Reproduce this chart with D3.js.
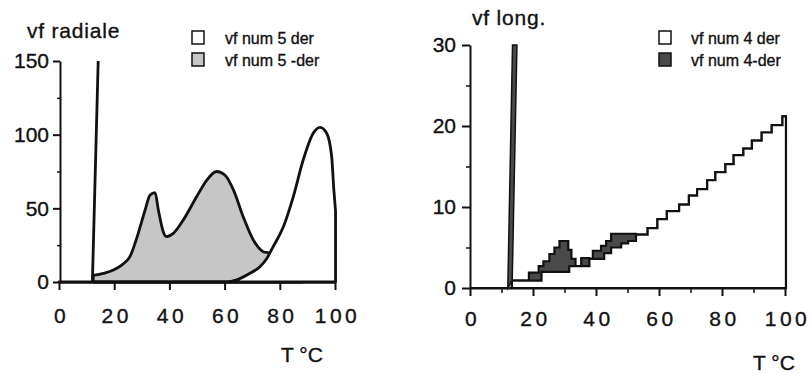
<!DOCTYPE html>
<html>
<head>
<meta charset="utf-8">
<script src="https://cdn.jsdelivr.net/npm/d3@7"></script>
<style>
  body { margin: 0; background: #fff; }
  svg { font-family: "Liberation Sans", Arial, sans-serif; }
  svg text { stroke: #111; stroke-width: 0.35px; }
</style>
</head>
<body>
<div id="chart"></div>
<script>
// ---- left panel: vf radiale (T, value) ----
const radDerMinus = [[12.4,4.5],[16.1,5.9],[19.7,8.1],[22.7,11.5],[25.7,17.2],[28.7,33],[31.2,48.9],[33,59],
  [34.8,60.6],[36,48.9],[37.8,34],[39,30.8],[41.4,33],[45,42],[49.9,58],[53.5,69],[57.1,75],[60.1,72.6],
  [63.2,62.5],[66.8,44],[70.4,28.5],[74,20.6],[76.4,19.5],[80,10],[84,3],[88,0]]
const radDer = [[0,0],[60.8,0],[64.4,1.4],[69.2,5.9],[72.8,10.4],[75.3,16],[77.6,24],[81.3,37.5],[84.9,58],
  [88.5,83],[92.1,101],[94.6,105],[97,101],[98.8,85],[99.6,62],[100.2,48]]
const radSpike = [[12.1,0],[14.2,150]]
const radYTicks = [0,50,100,150]
const radYMinor = [25,75,125]
const radXTicks = [0,20,40,60,80,100]
const radLegend = ["vf num 5 der", "vf num 5 -der"]

// ---- right panel: vf long. (step series) ----
const longDer = [[0,0],[13.3,0.9],[22.7,2.0],[31.5,2.7],[37.9,3.6],[42.6,4.3],[44.8,5.0],[48,5.5],[50.2,5.8],
  [52.7,6.6],[56.4,7.4],[59.5,8.5],[62.5,9.5],[66.4,10.3],[69.5,11.4],[72.1,12.2],[75.3,13.3],[77.9,14.3],
  [81.1,15.3],[83.7,16.4],[86.8,17.2],[89.5,18.2],[92.6,19.2],[95.8,20.1],[99.2,21.2],[100.3,21.2]]
const longDerMinus = [[0,0],[13.3,0.9],[18.7,1.9],[21.8,2.7],[23.3,3.3],[25.2,4.2],[26.8,5.0],[28.4,5.8],
  [31.2,4.7],[32.2,3.6],[33.5,2.7],[35.3,3.7],[37.9,3.6],[39,4.6],[41.6,5.2],[43.2,5.8],[44.8,6.7],
  [52.7,6.6],[56.4,7.4],[59.5,8.5],[62.5,9.5],[66.4,10.3],[69.5,11.4],[72.1,12.2],[75.3,13.3],[77.9,14.3],
  [81.1,15.3],[83.7,16.4],[86.8,17.2],[89.5,18.2],[92.6,19.2],[95.8,20.1],[99.2,21.2],[100.3,21.2]]
const longSpike = [[12.0,0],[13.5,30],[14.9,30],[13.4,0.9]]
const longYTicks = [0,10,20,30]
const longYMinor = [5,15,25]
const longXTicks = [0,20,40,60,80,100]
const longXMinor = [10,30,50,70,90]
const longLegend = ["vf num 4 der", "vf num 4-der"]

const svg = d3.select("#chart").append("svg")
  .attr("width", 810)
  .attr("height", 374)

function styleAxis(sel, w) {
  sel.select(".domain").attr("stroke", "#111").attr("stroke-width", w)
  sel.selectAll(".tick line").attr("stroke", "#111").attr("stroke-width", w)
  sel.selectAll("text").attr("fill", "#111").attr("font-size", "21px")
}

// ================= LEFT =================
const xR = d3.scaleLinear().domain([0, 100]).range([59, 335])
const yR = d3.scaleLinear().domain([0, 150]).range([282, 61])

const radArea = d3.area()
  .x(d => xR(d[0]))
  .y0(yR(0))
  .y1(d => yR(d[1]))
  .curve(d3.curveMonotoneX)

svg.append("path")
  .attr("d", radArea(radDerMinus))
  .attr("fill", "#c6c6c6")
  .attr("stroke", "#111")
  .attr("stroke-width", 2.8)
  .attr("stroke-linejoin", "round")

svg.append("path")
  .attr("d", radArea(radDer))
  .attr("fill", "#fff")
  .attr("stroke", "#111")
  .attr("stroke-width", 2.8)
  .attr("stroke-linejoin", "round")

svg.append("path")
  .attr("d", d3.line().x(d => xR(d[0])).y(d => yR(d[1]))(radSpike))
  .attr("stroke", "#111")
  .attr("stroke-width", 2.8)
  .attr("fill", "none")

// y axis
const radY = svg.append("g")
  .attr("transform", `translate(${xR(0) + 1},0)`)
  .call(d3.axisLeft(yR).tickValues(radYTicks).tickSize(7).tickSizeOuter(0).tickPadding(4))
styleAxis(radY, 2)
svg.append("g")
  .attr("transform", `translate(${xR(0) + 1},0)`)
  .call(d3.axisLeft(yR).tickValues(radYMinor).tickSize(3).tickFormat(""))
  .call(g => { g.select(".domain").remove(); g.selectAll("line").attr("stroke", "#111").attr("stroke-width", 1.5) })

// x axis
const radX = svg.append("g")
  .attr("transform", `translate(0,${yR(0)})`)
  .call(d3.axisBottom(xR).tickValues(radXTicks).tickSize(8).tickSizeOuter(0))
styleAxis(radX, 2)
radX.selectAll("text").attr("y", 41).attr("dy", 0).attr("letter-spacing", "3.5px").attr("dx", 2)

svg.append("text").attr("x", 27).attr("y", 38).attr("font-size", "21px").attr("letter-spacing", "0.8px")
  .attr("fill", "#111").text("vf radiale")
svg.append("text").attr("x", 281).attr("y", 362).attr("font-size", "21px").attr("fill", "#111").text("T °C")

// legend
const radLeg = svg.append("g").selectAll("g").data(radLegend).enter().append("g")
  .attr("transform", (d, i) => `translate(192,${31 + i * 22})`)
radLeg.append("rect").attr("width", 12).attr("height", 13)
  .attr("fill", (d, i) => i == 0 ? "#fff" : "#c6c6c6")
  .attr("stroke", "#111").attr("stroke-width", 1.5)
radLeg.append("text").attr("x", 33).attr("y", 13).attr("font-size", "16px").attr("fill", "#111").text(d => d)

// ================= RIGHT =================
const xL = d3.scaleLinear().domain([0, 100]).range([470, 785])
const yL = d3.scaleLinear().domain([0, 30]).range([288, 45])

const longArea = d3.area()
  .x(d => xL(d[0]))
  .y0(yL(0))
  .y1(d => yL(d[1]))
  .curve(d3.curveStepAfter)

svg.append("path")
  .attr("d", longArea(longDerMinus))
  .attr("fill", "#4a4a4a")
  .attr("stroke", "#111")
  .attr("stroke-width", 2.2)

svg.append("path")
  .attr("d", longArea(longDer))
  .attr("fill", "#fff")
  .attr("stroke", "#111")
  .attr("stroke-width", 2.2)

svg.append("path")
  .attr("d", d3.line().x(d => xL(d[0])).y(d => yL(d[1]))(longSpike) + "Z")
  .attr("fill", "#4a4a4a")
  .attr("stroke", "#111")
  .attr("stroke-width", 1.5)

const longY = svg.append("g")
  .attr("transform", `translate(${xL(0)},0)`)
  .call(d3.axisLeft(yL).tickValues(longYTicks).tickSize(8).tickSizeOuter(0).tickPadding(6))
styleAxis(longY, 2)
svg.append("g")
  .attr("transform", `translate(${xL(0)},0)`)
  .call(d3.axisLeft(yL).tickValues(longYMinor).tickSize(4).tickFormat(""))
  .call(g => { g.select(".domain").remove(); g.selectAll("line").attr("stroke", "#111").attr("stroke-width", 1.5) })

const longX = svg.append("g")
  .attr("transform", `translate(0,${yL(0)})`)
  .call(d3.axisBottom(xL).tickValues(longXTicks).tickSize(8).tickSizeOuter(0))
styleAxis(longX, 2)
longX.selectAll("text").attr("y", 38).attr("dy", 0).attr("letter-spacing", "3.5px").attr("dx", 2)
svg.append("g")
  .attr("transform", `translate(0,${yL(0)})`)
  .call(d3.axisBottom(xL).tickValues(longXMinor).tickSize(5).tickFormat(""))
  .call(g => { g.select(".domain").remove(); g.selectAll("line").attr("stroke", "#111").attr("stroke-width", 1.5) })

svg.append("text").attr("x", 472).attr("y", 25).attr("font-size", "21px").attr("letter-spacing", "0.8px")
  .attr("fill", "#111").text("vf long.")
svg.append("text").attr("x", 753).attr("y", 370).attr("font-size", "21px").attr("fill", "#111").text("T °C")

const longLeg = svg.append("g").selectAll("g").data(longLegend).enter().append("g")
  .attr("transform", (d, i) => `translate(659,${31 + i * 22})`)
longLeg.append("rect").attr("width", 12).attr("height", 13)
  .attr("fill", (d, i) => i == 0 ? "#fff" : "#4a4a4a")
  .attr("stroke", "#111").attr("stroke-width", 1.5)
longLeg.append("text").attr("x", 32).attr("y", 13).attr("font-size", "16px").attr("fill", "#111").text(d => d)
</script>
</body>
</html>
